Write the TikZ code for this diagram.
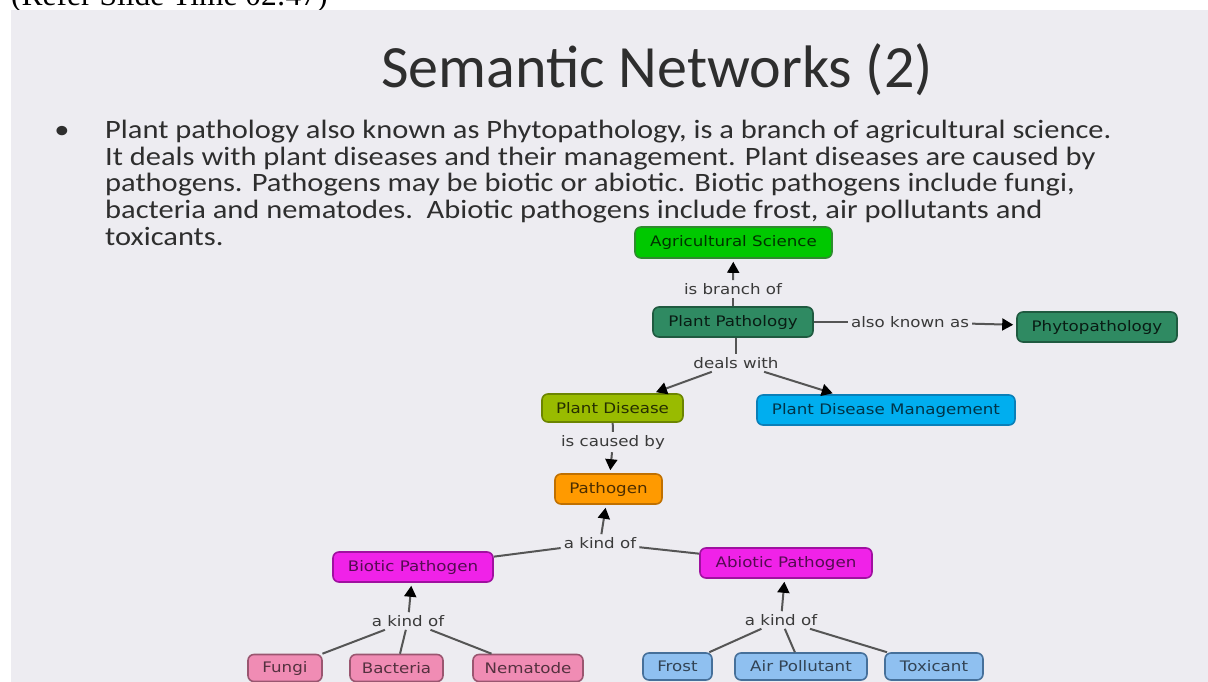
\documentclass[tikz,border=0pt]{standalone}
\usepackage{fontspec}
\setmainfont{Carlito}
\newfontfamily\bodyfont{Carlito}[FakeStretch=1.15]
\newfontfamily\nodefont{DejaVu Sans}[FakeStretch=1.15]
\newfontfamily\referfont{Liberation Serif}
\usetikzlibrary{arrows.meta}
\definecolor{slidebg}{HTML}{EDECF1}
\definecolor{txt}{HTML}{2E2E2E}
\definecolor{lbltxt}{HTML}{3A3A3A}
\definecolor{edgec}{HTML}{555555}
\definecolor{agfill}{HTML}{00C800}\definecolor{agdraw}{HTML}{2E8B2E}
\definecolor{ppfill}{HTML}{2F8A62}\definecolor{ppdraw}{HTML}{1F5A40}
\definecolor{pdfill}{HTML}{99BB00}\definecolor{pddraw}{HTML}{6C8500}
\definecolor{pdmfill}{HTML}{00AEEF}\definecolor{pdmdraw}{HTML}{0A7FB8}
\definecolor{pathfill}{HTML}{FF9A00}\definecolor{pathdraw}{HTML}{C07000}
\definecolor{magfill}{HTML}{F022E8}\definecolor{magdraw}{HTML}{A010A0}
\definecolor{pinkfill}{HTML}{F08CB4}\definecolor{pinkdraw}{HTML}{9A5670}
\definecolor{bluefill}{HTML}{8FC0F0}\definecolor{bluedraw}{HTML}{46709A}
\newcommand\nsz{\nodefont\fontsize{14.5}{16}\selectfont}
\newcommand\bodysz{\bodyfont\fontsize{26.5}{30}\selectfont}
\tikzset{
  concept/.style={draw, rounded corners=6pt, line width=1.6pt, minimum height=30pt,
    inner sep=0pt, font=\nsz, text=black!80},
  green/.style={concept, fill=agfill, draw=agdraw, text=black!75!agfill},
  teal/.style={concept, fill=ppfill, draw=ppdraw, text=black!80!ppfill},
  olive/.style={concept, fill=pdfill, draw=pddraw, text=black!75!pdfill},
  cyan/.style={concept, fill=pdmfill, draw=pdmdraw, text=black!70!pdmfill},
  orange/.style={concept, fill=pathfill, draw=pathdraw, text=black!70!pathfill},
  magenta/.style={concept, fill=magfill, draw=magdraw, text=black!65!magfill},
  pink/.style={concept, fill=pinkfill, draw=pinkdraw, text=black!65!pinkfill, minimum height=27pt},
  lblue/.style={concept, fill=bluefill, draw=bluedraw, text=black!65!bluefill, minimum height=27pt},
  lbl/.style={font=\nsz, text=lbltxt, inner sep=3pt},
  conn/.style={draw=edgec, line width=2pt},
  arr/.style={conn, -{Triangle[length=11pt,width=12pt,color=black]}, shorten >=3pt},
  bodyline/.style={anchor=base west, inner sep=0pt, font=\bodysz, text=txt}
}
\begin{document}
\begin{tikzpicture}[x=1pt,y=-1pt]
\useasboundingbox (0,0) rectangle (1208,682);
\fill[white] (0,0) rectangle (1208,682);
\begin{scope}
\clip (0,0) rectangle (1208,10);
\node[anchor=base west, inner sep=0pt, font=\referfont\fontsize{31.5}{36}\selectfont] (refer) at (11,5.5) {(Refer Slide Time 02:47)};
\end{scope}
\fill[slidebg] (11,10) rectangle (1208,682);

% title and text
\node[anchor=base, inner sep=0pt, font=\fontsize{60}{72}\selectfont, text=txt] (title) at (657,88) {Semantic Networks (2)};
\node[anchor=base, inner sep=0pt, font=\bodysz, text=txt] (bullet) at (62,139) {•};
\node[bodyline] (l1) at (105,139) {Plant pathology also known as Phytopathology, is a branch of agricultural science.};
\node[bodyline] (l2) at (105,165.5) {It deals with plant diseases and their management. Plant diseases are caused by};
\node[bodyline] (l3) at (105,192) {pathogens. Pathogens may be biotic or abiotic. Biotic pathogens include fungi,};
\node[bodyline] (l4) at (105,218.5) {bacteria and nematodes.\ \ Abiotic pathogens include frost, air pollutants and};
\node[bodyline] (l5) at (105,245) {toxicants.};

% concepts
\node[green, minimum width=197pt, minimum height=31pt] (agsci) at (733.5,242.5) {Agricultural Science};
\node[teal, minimum width=160pt] (pp) at (733,322) {Plant Pathology};
\node[teal, minimum width=160pt] (phyto) at (1097,327) {Phytopathology};
\node[olive, minimum width=141pt, minimum height=28pt] (pd) at (612.5,408) {Plant Disease};
\node[cyan, minimum width=258pt] (pdm) at (886,410) {Plant Disease Management};
\node[orange, minimum width=107pt] (path) at (608.5,489) {Pathogen};
\node[magenta, minimum width=160pt] (biotic) at (413,567) {Biotic Pathogen};
\node[magenta, minimum width=172pt] (abiotic) at (786,563) {Abiotic Pathogen};
\node[pink, minimum width=74pt] (fungi) at (285,668) {Fungi};
\node[pink, minimum width=93pt] (bacteria) at (396.5,668) {Bacteria};
\node[pink, minimum width=110pt] (nematode) at (528,668) {Nematode};
\node[lblue, minimum width=69pt] (frost) at (677.5,666.5) {Frost};
\node[lblue, minimum width=132pt] (air) at (801,666.5) {Air Pollutant};
\node[lblue, minimum width=98pt] (toxicant) at (934,666.5) {Toxicant};

% linking phrases
\node[lbl] (lbranch) at (733,289) {is branch of};
\node[lbl] (laka) at (910,322) {also known as};
\node[lbl] (ldeals) at (736,363) {deals with};
\node[lbl] (lcaused) at (613,442) {is caused by};
\node[lbl] (lkind0) at (600,543) {a kind of};
\node[lbl] (lkind1) at (408,621) {a kind of};
\node[lbl] (lkind2) at (781,620) {a kind of};

% connectors
\draw[conn] (pp) -- (lbranch);
\draw[arr] (lbranch) -- (agsci);
\draw[conn] (pp) -- (laka);
\draw[arr] (laka) -- (phyto);
\draw[conn] (pp.south -| ldeals.north) -- (ldeals);
\draw[arr] (ldeals) -- (pd);
\draw[arr] (ldeals) -- (pdm);
\draw[conn] (pd) -- (lcaused);
\draw[arr] (lcaused) -- (path);
\draw[conn] (biotic) -- (lkind0);
\draw[conn] (abiotic) -- (lkind0);
\draw[arr] (lkind0) -- (path);
\draw[conn] (fungi) -- (lkind1);
\draw[conn] (bacteria) -- (lkind1);
\draw[conn] (nematode) -- (lkind1);
\draw[arr] (lkind1) -- (biotic);
\draw[conn] (frost) -- (lkind2);
\draw[conn] (air) -- (lkind2);
\draw[conn] (toxicant) -- (lkind2);
\draw[arr] (lkind2) -- (abiotic);
\end{tikzpicture}
\end{document}
